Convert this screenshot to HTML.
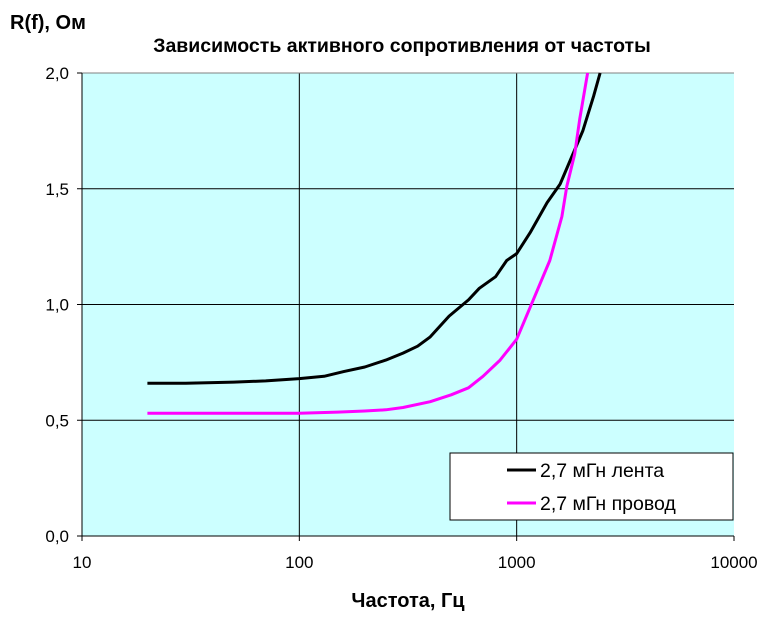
<!DOCTYPE html>
<html><head><meta charset="utf-8"><style>
body{margin:0;background:#fff;font-family:"Liberation Sans",sans-serif;}
</style></head><body>
<svg width="765" height="615" viewBox="0 0 765 615" xmlns="http://www.w3.org/2000/svg">
<rect x="0" y="0" width="765" height="615" fill="#fff"/>
<text x="10" y="29" font-size="20" font-weight="bold">R(f), Ом</text>
<text x="402" y="52" font-size="19.5" font-weight="bold" text-anchor="middle">Зависимость активного сопротивления от частоты</text>
<rect x="82" y="73" width="652" height="463" fill="#ccffff"/>
<g id="grid"></g>
<g id="series"></g>
<g id="axes"></g>
<text x="408" y="607" font-size="20" font-weight="bold" text-anchor="middle">Частота, Гц</text>
<g>
<rect x="450" y="453" width="283" height="67" fill="#fff" stroke="#000" stroke-width="1"/>
<line x1="507" y1="470" x2="536" y2="470" stroke="#000" stroke-width="3"/>
<text x="540" y="477" font-size="19.5">2,7 мГн лента</text>
<line x1="507" y1="503" x2="536" y2="503" stroke="#ff00ff" stroke-width="3"/>
<text x="540" y="510" font-size="19.5">2,7 мГн провод</text>
</g>
</svg>
<script>
const xTicks=[10,100,1000,10000];
const xTickLabels=["10","100","1000","10000"];
const yTicks=[0,0.5,1.0,1.5,2.0];
const yTickLabels=["0,0","0,5","1,0","1,5","2,0"];
const lentaF=[20,30,50,70,100,130,160,200,250,300,350,400,489,600,673,800,900,1000,1153,1380,1584,1853,2015,2260,2420];
const lentaR=[0.66,0.66,0.665,0.67,0.68,0.69,0.71,0.73,0.76,0.79,0.82,0.86,0.95,1.02,1.07,1.12,1.19,1.22,1.31,1.44,1.52,1.67,1.75,1.9,2.0];
const provodF=[20,30,50,70,100,150,200,250,300,400,500,600,700,839,1000,1180,1420,1615,1700,1850,1950,2120];
const provodR=[0.53,0.53,0.53,0.53,0.53,0.535,0.54,0.545,0.555,0.58,0.61,0.64,0.69,0.76,0.85,1.01,1.19,1.38,1.51,1.65,1.80,2.0];
const L=82,R=734,T=73,B=536;
const xs=f=>L+(Math.log10(f)-1)/3*(R-L);
const ys=v=>B-v/2*(B-T);
const NS="http://www.w3.org/2000/svg";
function mk(tag,attrs,parent){const e=document.createElementNS(NS,tag);for(const k in attrs)e.setAttribute(k,attrs[k]);parent.appendChild(e);return e;}
const grid=document.getElementById('grid'),axes=document.getElementById('axes'),ser=document.getElementById('series');
xTicks.forEach((t,i)=>{const x=xs(t);
 if(i>0&&i<xTicks.length-1){const g=mk('line',{x1:x,y1:T,x2:x,y2:B,stroke:'#000','stroke-width':1},grid);
 
 }
 mk('line',{x1:x,y1:B,x2:x,y2:B+5,stroke:'#000'},axes);
 const tx=mk('text',{x:x,y:B+32,'font-size':17,'text-anchor':'middle'},axes);tx.textContent=xTickLabels[i];
 
 
});
yTicks.forEach((t,i)=>{const y=ys(t);
 if(i>0){const g=mk('line',{x1:L,y1:y,x2:R,y2:y,stroke:i==yTicks.length-1?'#808080':'#000','stroke-width':1},grid);
 
 }
 mk('line',{x1:L-5,y1:y,x2:L,y2:y,stroke:'#000'},axes);
 const tx=mk('text',{x:L-13,y:y+6,'font-size':17,'text-anchor':'end'},axes);tx.textContent=yTickLabels[i];
 
 
});
mk('line',{x1:L,y1:T,x2:L,y2:B,stroke:'#000'},axes);
mk('line',{x1:L,y1:B,x2:R,y2:B,stroke:'#000'},axes);
function line(F,V,color,name){const p=F.map((f,i)=>xs(f).toFixed(1)+','+ys(V[i]).toFixed(1)).join(' ');
 const e=mk('polyline',{points:p,fill:'none',stroke:color,'stroke-width':3,'stroke-linejoin':'round'},ser);
 
 }
line(lentaF,lentaR,'#000','series-lenta');
line(provodF,provodR,'#ff00ff','series-provod');
</script>
</body></html>
